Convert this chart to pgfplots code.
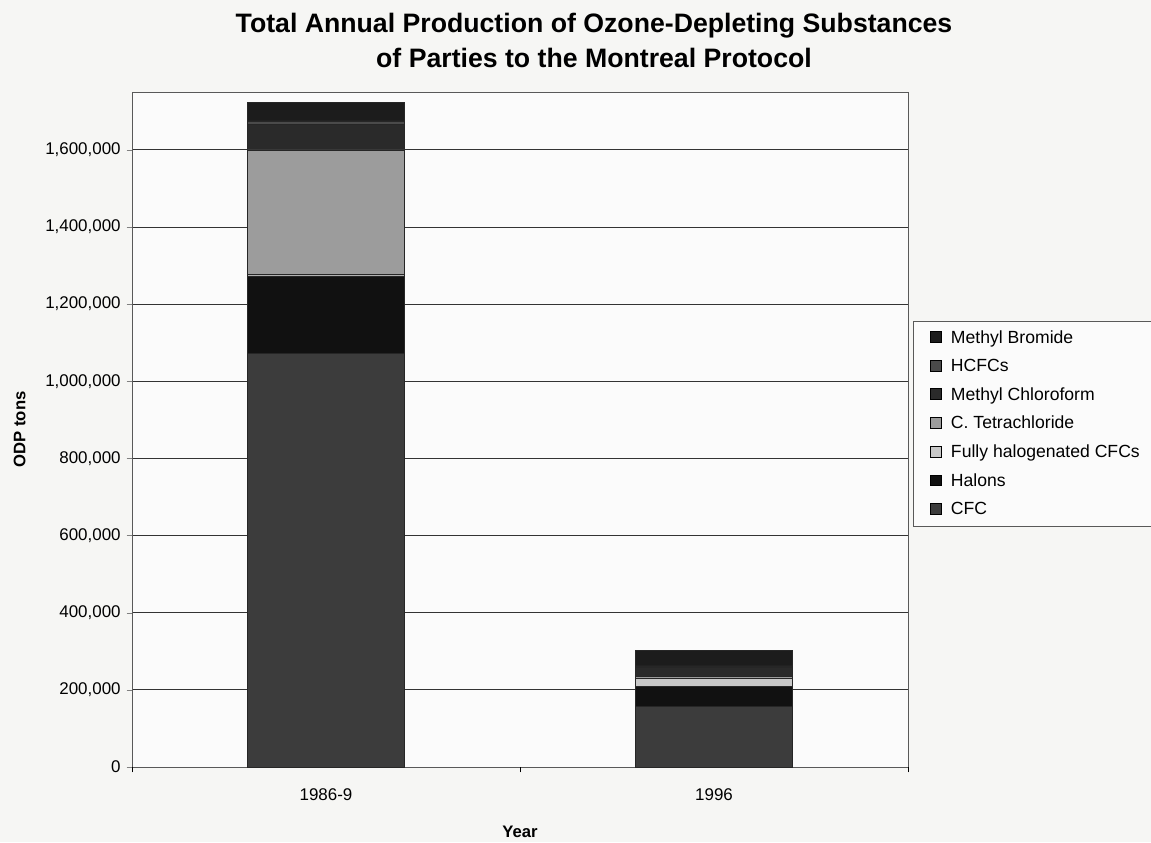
\documentclass[border=0pt]{standalone}
\usepackage{pgfplots}
\pgfplotsset{compat=1.18}
\usepackage{fontspec}
\setmainfont{Liberation Sans}
\definecolor{bgc}{HTML}{F6F6F4}
\definecolor{cCFC}{HTML}{3C3C3C}
\definecolor{cHal}{HTML}{111111}
\definecolor{cFull}{HTML}{C8C8C8}
\definecolor{cCT}{HTML}{9C9C9C}
\definecolor{cMC}{HTML}{2A2A2A}
\definecolor{cHCFC}{HTML}{4A4A4A}
\definecolor{cMB}{HTML}{1C1C1C}
\begin{document}
\begin{tikzpicture}
\fill[bgc, use as bounding box] (0,0) rectangle (863.25pt,631.5pt);
\node[align=center, font=\fontsize{20}{26.25}\selectfont\bfseries] at (445.5pt,601pt)
  {Total Annual Production of Ozone-Depleting Substances\\of Parties to the Montreal Protocol};
\begin{axis}[
  at={(99pt,56.25pt)}, anchor=south west,
  scale only axis, width=582pt, height=506.25pt,
  ybar stacked, bar width=117.75pt,
  xmin=-0.5, xmax=1.5, ymin=0, ymax=1750000,
  xtick={0,1}, xticklabels={1986-9,1996},
  xtick style={draw=none},
  extra x ticks={-0.5,0.5,1.5}, extra x tick labels={},
  extra x tick style={xtick style={draw=black}, major tick length=4pt, tick align=outside, grid=none},
  ytick={0,200000,...,1600000},
  ytick pos=left, xtick pos=bottom,
  tick align=outside, major tick length=4pt,
  scaled y ticks=false,
  /pgf/number format/.cd, fixed, 1000 sep={,}, assume math mode=true,
  /pgfplots/.cd,
  ymajorgrids, grid style={black!80, line width=0.6pt},
  axis line style={gray!70!black, line width=0.6pt},
  axis background/.style={fill=white!60!bgc},
  tick label style={font=\fontsize{12.7}{14}\selectfont},
  yticklabel style={xshift=-1pt},
  xticklabel style={yshift=-9pt},
  ylabel={\bfseries ODP tons}, ylabel style={font=\fontsize{12.5}{14}\selectfont, yshift=8pt},
  xlabel={\bfseries Year}, xlabel style={font=\fontsize{12.5}{14}\selectfont, yshift=-4pt},
  reverse legend,
  legend style={at={(1.006,0.661)}, anchor=north west, draw=gray!70!black, fill=white!60!bgc,
    font=\fontsize{13.2}{15}\selectfont, row sep=6.5pt, inner xsep=7pt, inner ysep=5pt,
    /tikz/every odd column/.append style={column sep=5pt}},
  legend cell align=left,
  legend image code/.code={\path (-6pt,0pt); \draw[#1, draw=black, line width=0.6pt] (0pt,-3.5pt) rectangle (8pt,4.5pt);},
  every axis plot/.append style={draw=black!85, line width=0.5pt},
]
\addplot[fill=cCFC] coordinates {(0,1073000) (1,158000)};
\addplot[fill=cHal] coordinates {(0,200000) (1,50000)};
\addplot[fill=cFull] coordinates {(0,3000) (1,22000)};
\addplot[fill=cCT] coordinates {(0,324000) (1,4000)};
\addplot[fill=cMC] coordinates {(0,65000) (1,24000)};
\addplot[fill=cHCFC] coordinates {(0,10000) (1,4000)};
\addplot[fill=cMB] coordinates {(0,47000) (1,40000)};
\legend{CFC,Halons,Fully halogenated CFCs,C. Tetrachloride,Methyl Chloroform,HCFCs,Methyl Bromide}
\end{axis}
\end{tikzpicture}
\end{document}
